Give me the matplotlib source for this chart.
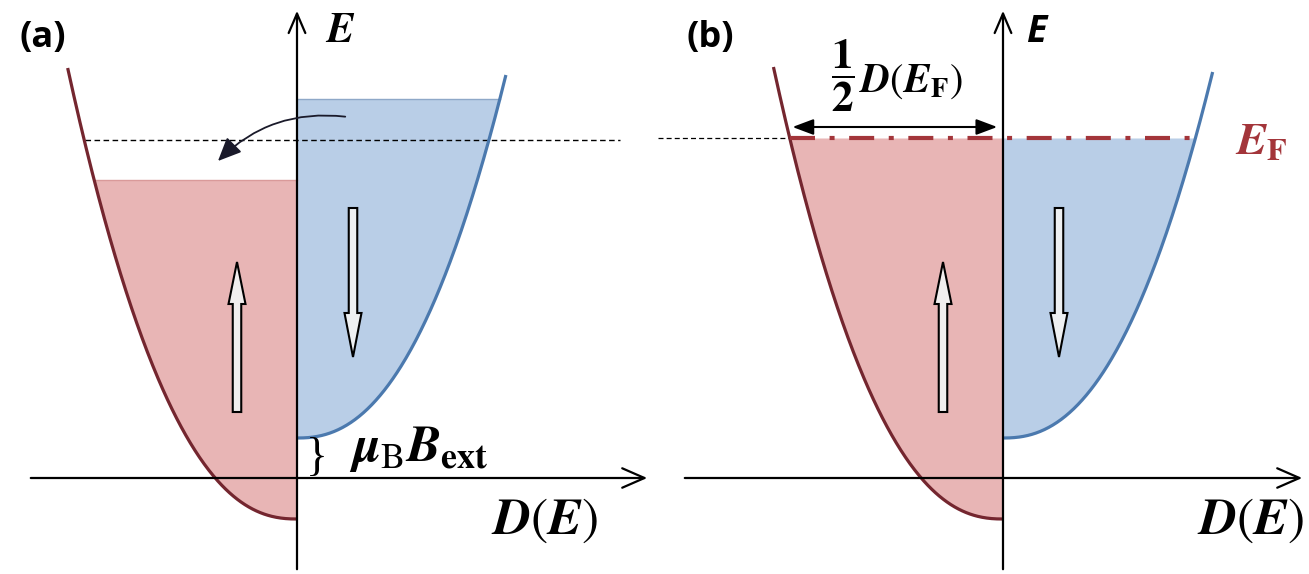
import numpy as np
import matplotlib
matplotlib.use('Agg')
import matplotlib.pyplot as plt
from matplotlib.patches import FancyArrowPatch, FancyArrow

plt.rcParams['mathtext.fontset'] = 'custom'
plt.rcParams['mathtext.it'] = 'STIXGeneral:italic:bold'
plt.rcParams['mathtext.rm'] = 'STIXGeneral'
plt.rcParams['mathtext.bf'] = 'STIXGeneral:bold'

# band parameters (energy units, horizontal axis at E = 0)
panel_labels = ['(a)', '(b)']
bottom_up = [-0.41, -0.41]      # spin-up band bottom
bottom_down = [0.40, 0.40]      # spin-down band bottom
top_up = [4.10, 4.11]           # where the drawn curve ends
top_down = [4.03, 4.06]
fill_up = [2.98, 3.40]          # occupied up to
fill_down = [3.79, 3.40]
dashed_level = [3.38, 3.40]
dos_a = 1.2                     # D(E) = a * (E - E0)^p
dos_p = 0.43

red_line = '#74262f'
red_fill = '#e8b5b5'
blue_line = '#4b79ae'
blue_fill = '#b9cee7'


def dos(e, e0):
    return dos_a * np.clip(e - e0, 0, None) ** dos_p


def band(e0, etop, n=300):
    d = np.linspace(0, dos(etop, e0), n)
    e = e0 + (d / dos_a) ** (1 / dos_p)
    return d, e


fig = plt.figure(figsize=(13.09, 5.74), dpi=100)
ax_a = fig.add_axes([0, 0, 654 / 1309, 1])
ax_b = fig.add_axes([654 / 1309, 0, 655 / 1309, 1])
ax_a.set_xlim(-2.97, 3.57)
ax_b.set_xlim(-3.49, 3.06)

for i, ax in enumerate([ax_a, ax_b]):
    ax.set_ylim(-0.96, 4.78)
    ax.axis('off')

    # filled parts
    d, e = band(bottom_up[i], fill_up[i])
    ax.fill_betweenx(e, -d, 0, color=red_fill, lw=0, zorder=1)
    d, e = band(bottom_down[i], fill_down[i])
    ax.fill_betweenx(e, 0, d, color=blue_fill, lw=0, zorder=1)

    # curves
    d, e = band(bottom_up[i], top_up[i])
    ax.plot(-d, e, color=red_line, lw=2.3, zorder=3, solid_capstyle='butt')
    d, e = band(bottom_down[i], top_down[i])
    ax.plot(d, e, color=blue_line, lw=2.3, zorder=3, solid_capstyle='butt')

    # axes
    xl = ax.get_xlim()
    ax.add_patch(FancyArrowPatch((0, -0.94), (0, 4.70), arrowstyle='->,head_length=0.7,head_width=0.3',
                                 mutation_scale=20, lw=1.6, color='black', zorder=4))
    ax.add_patch(FancyArrowPatch((xl[0] + 0.28, 0), (xl[1] - 0.04, 0),
                                 arrowstyle='->,head_length=0.8,head_width=0.35',
                                 mutation_scale=20, lw=1.6, color='black', zorder=4))

    # hollow spin arrows
    ax.add_patch(FancyArrow(-0.60, 0.66, 0, 1.50, width=0.085, head_width=0.17, head_length=0.42,
                            length_includes_head=True, fc='#f0eeee', ec='black', lw=1.5, zorder=5))
    ax.add_patch(FancyArrow(0.56, 2.70, 0, -1.49, width=0.085, head_width=0.17, head_length=0.44,
                            length_includes_head=True, fc='#eef0f2', ec='black', lw=1.5, zorder=5))

    ax.text(-2.54 if i == 0 else -2.93, 4.40, panel_labels[i], fontsize=26, fontweight='bold',
            family='Open Sans', ha='center', va='center')
    ax.text(2.48, -0.42, r'$D(E)$', fontsize=37, ha='center', va='center')

# panel (a) extras
e_lvl = fill_down[0]
ax_a.plot([0, dos(e_lvl, bottom_down[0])], [e_lvl, e_lvl], color='#8ea8c8', lw=1.0, zorder=2)
e_lvl = fill_up[0]
ax_a.plot([-dos(e_lvl, bottom_up[0]), 0], [e_lvl, e_lvl], color='#d99a9a', lw=1.0, zorder=2)
ax_a.plot([-2.12, 3.23], [dashed_level[0]] * 2, color='black', lw=1.0, ls=(0, (4, 2.5)), zorder=2)
ax_a.add_patch(FancyArrowPatch((0.51, 3.61), (-0.81, 3.15), connectionstyle='arc3,rad=0.25',
                               arrowstyle='-|>,head_length=0.9,head_width=0.4', mutation_scale=16,
                               lw=1.3, color='#1a1a2a', zorder=6))
ax_a.text(0.43, 4.48, r'$E$', fontsize=30, ha='center', va='center')
ax_a.text(0.20, 0.19, '}', fontsize=33, family='Liberation Serif', ha='center', va='center')
ax_a.text(0.52, 0.29, r'$\mu_{\mathrm{B}}B_{\mathbf{ext}}$', fontsize=37, ha='left', va='center')

# panel (b) extras
ef = dashed_level[1]
d_left = dos(ef, bottom_up[1])
d_right = dos(ef, bottom_down[1])
ax_b.plot([-3.45, -d_left], [ef, ef], color='black', lw=0.9, ls=(0, (4, 2.5)), zorder=2)
ax_b.plot([-d_left, d_right], [ef, ef], color='#a3353a', lw=3.0, ls=(0, (6, 3.5, 1.2, 3.5)), zorder=4)
ax_b.add_patch(FancyArrowPatch((-d_left, 3.51), (-0.03, 3.51), arrowstyle='<|-|>,head_length=0.8,head_width=0.3',
                               mutation_scale=16, lw=1.5, color='black', zorder=6))
ax_b.text(0.33, 4.46, 'E', fontsize=27, fontweight='bold', style='italic', family='Open Sans',
          ha='center', va='center')
ax_b.text(2.58, 3.36, r'$E_{\mathbf{F}}$', fontsize=33, color='#a3353a', ha='center', va='center')
ax_b.text(-1.60, 4.02, r'$\dfrac{\mathbf{1}}{\mathbf{2}}$', fontsize=31, ha='center', va='center')
ax_b.text(-1.44, 3.97, r'$D(E_{\mathbf{F}})$', fontsize=29, ha='left', va='center')

plt.savefig('out.png', dpi=100)
